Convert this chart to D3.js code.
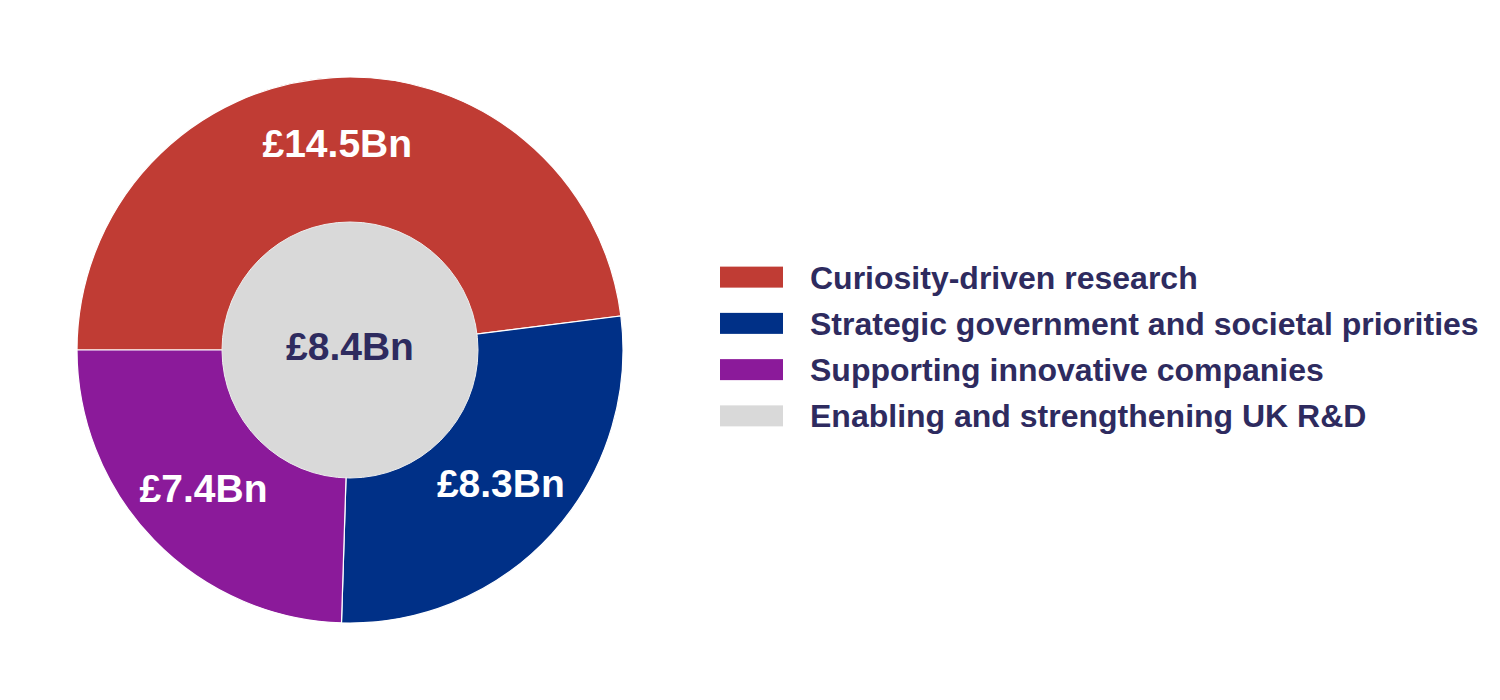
<!DOCTYPE html>
<html>
<head>
<meta charset="utf-8">
<script src="https://cdn.jsdelivr.net/npm/d3@7"></script>
<style>
html,body{margin:0;padding:0;background:#fff;}
svg{display:block;font-family:"Liberation Sans",Arial,sans-serif;}
</style>
</head>
<body>
<svg id="chart" width="1500" height="700"></svg>
<script>
const categories = ["Curiosity-driven research","Strategic government and societal priorities","Supporting innovative companies"];
const values = [14.5, 8.3, 7.4];
const valueLabels = ["£14.5Bn","£8.3Bn","£7.4Bn"];
const centerCategory = "Enabling and strengthening UK R&D";
const centerValue = 8.4;
const centerLabel = "£8.4Bn";
const legendLabels = [...categories, centerCategory];
const colors = ["#C03C34","#003087","#8B1A9A","#D9D9D9"];

const svg = d3.select("#chart");
const cx = 350, cy = 350, outerR = 273, innerR = 128, labelR = 204;
const textColor = "#2E2B5F";

const pie = d3.pie().sort(null).value(d => d)
  .startAngle(-Math.PI/2).endAngle(3*Math.PI/2);
const arcs = pie(values);
const arc = d3.arc().innerRadius(0).outerRadius(outerR);
const labelArc = d3.arc().innerRadius(labelR).outerRadius(labelR);

const g = svg.append("g").attr("transform", `translate(${cx},${cy})`);
g.selectAll("path.seg").data(arcs).enter().append("path")
  .attr("class","seg")
  .attr("d", arc)
  .attr("fill", (d,i) => colors[i])
  .attr("stroke", "#fff").attr("stroke-width", 1.2);

g.append("circle").attr("r", innerR).attr("fill", colors[3])
  .attr("stroke", "#eeeeee").attr("stroke-width", 1);

g.selectAll("text.val").data(arcs).enter().append("text")
  .attr("class","val")
  .attr("transform", d => `translate(${labelArc.centroid(d)})`)
  .attr("text-anchor","middle")
  .attr("dy","0.26em")
  .attr("fill","#fff")
  .attr("font-weight","bold")
  .attr("font-size", 39)
  .text((d,i) => valueLabels[i]);

g.append("text")
  .attr("text-anchor","middle").attr("dy","0.26em")
  .attr("fill", textColor).attr("font-weight","bold").attr("font-size", 39)
  .text(centerLabel);

const y = d3.scaleBand().domain(legendLabels).range([254, 439]).paddingInner(0);
const lg = svg.append("g");
legendLabels.forEach((lab, i) => {
  const yc = y(lab) + y.bandwidth()/2;
  lg.append("rect").attr("x", 720).attr("y", yc - 10.5).attr("width", 63).attr("height", 21)
    .attr("fill", colors[i]);
  lg.append("text").attr("x", 810).attr("y", yc).attr("dy","0.36em")
    .attr("fill", textColor).attr("font-weight","bold").attr("font-size", 32)
    .text(lab);
});
</script>
</body>
</html>
